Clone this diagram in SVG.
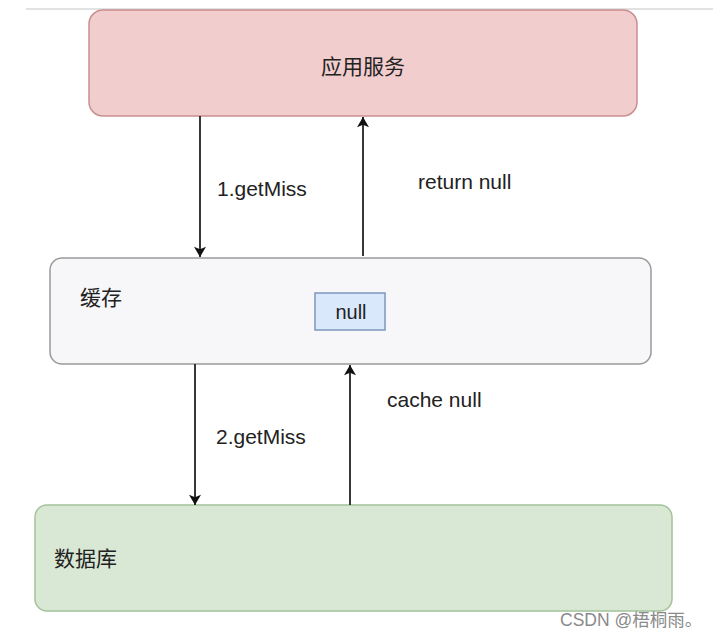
<svg xmlns="http://www.w3.org/2000/svg" width="713" height="637" viewBox="0 0 713 637">
<defs>
<marker id="ah" viewBox="0 0 12 14" refX="12" refY="7" markerWidth="14" markerHeight="12" markerUnits="userSpaceOnUse" orient="auto">
<path d="M0,0 L12,7 L0,14 L3,7 z" fill="#111"/>
</marker>
</defs>
<style>
.t{font-family:"Liberation Sans","Noto Sans CJK SC",sans-serif;fill:#222}
.cn{font-family:"Noto Sans CJK SC","Liberation Sans",sans-serif;fill:#222;font-size:21px}
.lbl{font-size:21px}
.c{stroke:#222;stroke-width:1.8;fill:none;marker-end:url(#ah)}
</style>
<rect width="713" height="637" fill="#ffffff"/>
<line x1="26" y1="9" x2="713" y2="9" stroke="#d8d8d8" stroke-width="1.5"/>
<g id="app">
<rect x="89" y="10" width="548" height="106" rx="14" fill="#f1cdcd" stroke="#c98f8f" stroke-width="1.5"/>
<text class="cn" x="363" y="74" text-anchor="middle">应用服务</text>
</g>
<g id="cache">
<rect x="50" y="258" width="601" height="106" rx="12" fill="#f7f7f9" stroke="#9a9a9a" stroke-width="1.5"/>
<text class="cn" x="80" y="305">缓存</text>
</g>
<g id="nullbox">
<rect x="315" y="293" width="70" height="37" fill="#dae8fc" stroke="#7d97bd" stroke-width="1.5"/>
<text class="t" font-size="20" x="351" y="319" text-anchor="middle">null</text>
</g>
<g id="db">
<rect x="35" y="505" width="637" height="106" rx="12" fill="#d9e8d4" stroke="#a3c29a" stroke-width="1.5"/>
<text class="cn" x="54" y="566">数据库</text>
</g>
<g id="connectors">
<line class="c" x1="200" y1="116" x2="200" y2="257"/>
<line class="c" x1="363" y1="256" x2="363" y2="117"/>
<line class="c" x1="195" y1="364" x2="195" y2="505"/>
<line class="c" x1="350" y1="505" x2="350" y2="365"/>
<text class="t lbl" x="217" y="196">1.getMiss</text>
<text class="t lbl" x="418" y="189">return null</text>
<text class="t lbl" x="216" y="444">2.getMiss</text>
<text class="t lbl" x="387" y="407">cache null</text>
</g>
<text x="560" y="626" font-family="Liberation Sans,Noto Sans CJK SC,sans-serif" font-size="17.5" fill="#8a8a8a">CSDN @梧桐雨。</text>
</svg>
